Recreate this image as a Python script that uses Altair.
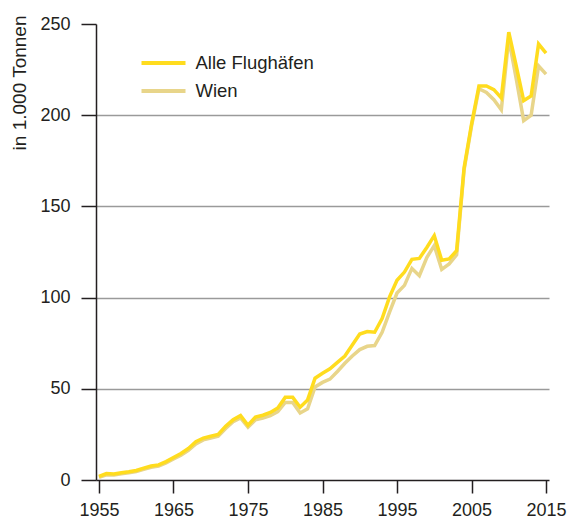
import altair as alt
import pandas as pd

years = list(range(1955, 2016))

alle = [2.0, 3.5, 3.3, 4.0, 4.5, 5.2, 6.5, 7.7, 8.3, 10.1,
        12.3, 14.5, 17.3, 21.0, 23.0, 24.0, 25.0, 29.5, 33.0, 35.3,
        30.0, 34.5, 35.5, 37.0, 39.5, 45.3, 45.3, 39.9, 43.9, 55.8,
        58.5, 61.0, 64.5, 68.0, 74.0, 80.0, 81.4, 81.0, 88.5, 100.4,
        109.5, 114.0, 121.0, 121.5, 127.5, 134.0, 120.5, 121.2, 125.7, 171.0,
        195.0, 216.0, 216.0, 214.0, 209.5, 245.5, 227.0, 208.0, 210.5, 239.0,
        234.0]

wien = [1.5, 2.8, 2.8, 3.4, 4.0, 4.7, 5.9, 7.0, 7.6, 9.4,
        11.5, 13.6, 16.2, 19.8, 22.0, 23.0, 24.0, 28.2, 32.0, 34.0,
        29.0, 33.0, 34.0, 35.3, 37.5, 42.5, 42.5, 36.7, 39.0, 51.0,
        53.5, 55.3, 59.5, 64.0, 68.0, 71.5, 73.3, 73.7, 81.0, 92.0,
        102.5, 106.7, 116.0, 112.0, 122.0, 128.5, 115.5, 118.5, 123.5, 170.0,
        194.0, 214.5, 212.5, 208.5, 203.0, 242.0, 220.0, 197.0, 200.0, 227.0,
        222.5]

series_names = ["Alle Flughäfen", "Wien"]
series_colors = ["#FFDC1E", "#E8D58A"]
x_ticks = [1955, 1965, 1975, 1985, 1995, 2005, 2015]
y_ticks = [0, 50, 100, 150, 200, 250]
y_title = "in 1.000 Tonnen"

df = pd.DataFrame({
    "Jahr": years + years,
    "Wert": alle + wien,
    "Serie": [series_names[0]] * len(years) + [series_names[1]] * len(years),
})

FONT = "Liberation Sans"
TXT = "#231f20"

x = alt.X(
    "Jahr:Q",
    scale=alt.Scale(domain=[1954.6, 2015.4], nice=False, zero=False),
    axis=alt.Axis(
        values=x_ticks, format="d", title=None, grid=False,
        tickSize=13, tickWidth=1.5, tickColor=TXT,
        domainColor=TXT, domainWidth=1.5,
        labelFontSize=18, labelFont=FONT, labelColor=TXT,
        labelPadding=8, labelFlush=False,
    ),
)

y = alt.Y(
    "Wert:Q",
    scale=alt.Scale(domain=[0, 250], nice=False),
    axis=alt.Axis(
        values=y_ticks, title=y_title, grid=True,
        gridColor="#9a9a9a", gridWidth=1.5,
        gridOpacity={"condition": {"test": "datum.value > 0 && datum.value < 250", "value": 1}, "value": 0},
        tickSize=15, tickWidth=1.5, tickColor=TXT,
        domainColor=TXT, domainWidth=1.5,
        labelFontSize=18, labelFont=FONT, labelColor=TXT, labelPadding=11,
        titleFontSize=19, titleFont=FONT, titleColor=TXT, titleFontWeight="normal",
        titleAngle=270, titleAlign="right", titleBaseline="alphabetic",
        titleX=-70.5, titleY=-9,
    ),
)

color = alt.Color(
    "Serie:N",
    scale=alt.Scale(domain=series_names, range=series_colors),
    legend=alt.Legend(
        orient="none", legendX=54.5, legendY=26, title=None,
        symbolType="M-2,0L2,0", symbolSize=484, symbolStrokeWidth=4,
        symbolOpacity=1,
        labelFontSize=18.5, labelFont=FONT, labelColor=TXT,
        labelOffset=19, rowPadding=5, padding=0,
    ),
)

base = alt.Chart(df).encode(x=x, y=y, color=color)
wien_layer = base.transform_filter(alt.datum.Serie == "Wien").mark_line(strokeWidth=3.5)
alle_layer = base.transform_filter(alt.datum.Serie == "Alle Flughäfen").mark_line(strokeWidth=3.5)

chart = (
    alt.layer(wien_layer, alle_layer)
    .properties(
        width=453, height=456,
        autosize=alt.AutoSizeParams(type="none"),
        padding={"left": 88, "top": 16, "right": 18, "bottom": 39},
        background="white",
    )
    .configure_view(strokeWidth=0)
)

chart.save("out.html", embed_options={"renderer": "svg", "actions": False})
